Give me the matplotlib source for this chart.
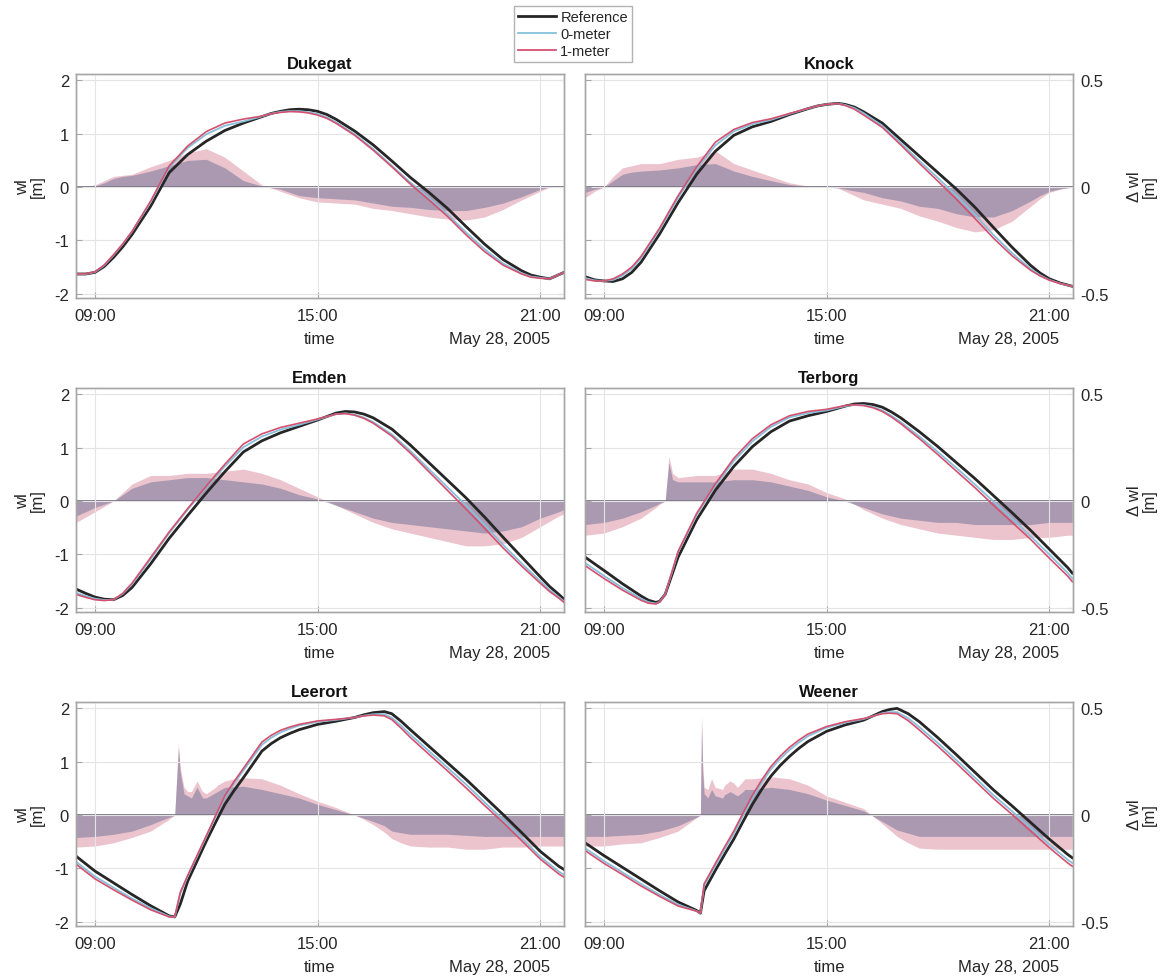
import numpy as np
import matplotlib
matplotlib.use("Agg")
import matplotlib.pyplot as plt
import matplotlib.dates as mdates
from matplotlib.lines import Line2D

plt.rcParams['font.family'] = ['Liberation Sans', 'DejaVu Sans']
plt.rcParams['axes.unicode_minus'] = False

# ---------------- data (hours of May 28, 2005) ----------------
stations = ['Dukegat', 'Knock', 'Emden', 'Terborg', 'Leerort', 'Weener']
series_labels = ['Reference', '0-meter', '1-meter']
date_label = 'May 28, 2005'

# Dukegat
t_dukegat = [8.49, 8.75, 9, 9.25, 9.5, 9.75, 10, 10.5, 11, 11.5, 12, 12.5, 13, 13.5, 13.75, 14, 14.25, 14.5,
             14.75, 15, 15.25, 15.5, 16, 16.5, 17, 17.5, 18, 18.5, 19, 19.5, 20, 20.5, 20.75, 21, 21.25, 21.64]
wl_dukegat = [-1.63, -1.63, -1.6, -1.49, -1.32, -1.12, -0.89, -0.36, 0.27, 0.61, 0.86, 1.06, 1.2, 1.32, 1.38,
              1.42, 1.45, 1.46, 1.45, 1.42, 1.36, 1.27, 1.05, 0.79, 0.49, 0.18, -0.1, -0.4, -0.74, -1.07, -1.36,
              -1.57, -1.65, -1.69, -1.72, -1.6]
d1_dukegat = [0, 0.005, 0.01, 0.03, 0.05, 0.055, 0.06, 0.095, 0.125, 0.16, 0.18, 0.14, 0.075, 0.01, -0.005,
              -0.02, -0.035, -0.05, -0.06, -0.07, -0.072, -0.075, -0.08, -0.1, -0.11, -0.125, -0.14, -0.15,
              -0.155, -0.14, -0.105, -0.06, -0.04, -0.02, 0.0, 0.0]
d0_dukegat = [0, 0.0, 0.005, 0.02, 0.04, 0.05, 0.055, 0.075, 0.1, 0.125, 0.13, 0.09, 0.03, 0.005, -0.003,
              -0.01, -0.025, -0.04, -0.045, -0.05, -0.052, -0.055, -0.06, -0.075, -0.09, -0.095, -0.105, -0.11,
              -0.11, -0.095, -0.075, -0.045, -0.028, -0.01, 0.0, 0.0]

# Knock
t_knock = [8.49, 8.75, 9, 9.25, 9.5, 9.75, 10, 10.5, 11, 11.5, 12, 12.5, 13, 13.5, 14, 14.5, 14.75, 15, 15.3,
           15.5, 15.75, 16, 16.5, 17, 17.5, 18, 18.5, 19, 19.5, 20, 20.5, 20.75, 21, 21.3, 21.62]
wl_knock = [-1.68, -1.74, -1.76, -1.77, -1.72, -1.6, -1.41, -0.88, -0.29, 0.24, 0.67, 0.97, 1.13, 1.23, 1.36,
            1.47, 1.52, 1.55, 1.57, 1.55, 1.5, 1.41, 1.2, 0.89, 0.58, 0.27, -0.04, -0.38, -0.76, -1.13, -1.47,
            -1.61, -1.72, -1.8, -1.86]
d1_knock = [-0.05, -0.02, 0.0, 0.05, 0.09, 0.1, 0.11, 0.11, 0.13, 0.14, 0.17, 0.11, 0.08, 0.05, 0.02, 0.005,
            0.002, 0.0, -0.005, -0.02, -0.04, -0.06, -0.08, -0.1, -0.135, -0.16, -0.19, -0.21, -0.2, -0.16, -0.09,
            -0.055, -0.025, -0.01, 0.0]
d0_knock = [-0.025, -0.01, 0.0, 0.03, 0.06, 0.07, 0.075, 0.08, 0.09, 0.105, 0.11, 0.075, 0.05, 0.03, 0.012,
            0.003, 0.001, 0.0, -0.003, -0.01, -0.018, -0.025, -0.05, -0.065, -0.09, -0.1, -0.125, -0.14, -0.14,
            -0.11, -0.065, -0.04, -0.02, -0.008, 0.0]

# Emden
t_emden = [8.49, 8.75, 9, 9.25, 9.5, 9.75, 10, 10.5, 11, 11.5, 12, 12.5, 13, 13.5, 14, 14.5, 15, 15.5, 15.75,
           16, 16.25, 16.5, 17, 17.5, 18, 18.5, 19, 19.5, 20, 20.5, 21, 21.25, 21.5, 21.64]
wl_emden = [-1.65, -1.73, -1.8, -1.84, -1.85, -1.77, -1.62, -1.18, -0.7, -0.27, 0.15, 0.55, 0.92, 1.13, 1.28,
            1.4, 1.52, 1.65, 1.68, 1.67, 1.63, 1.56, 1.35, 1.05, 0.72, 0.39, 0.06, -0.3, -0.68, -1.05, -1.42,
            -1.6, -1.75, -1.84]
d1_emden = [-0.1, -0.075, -0.05, -0.025, 0.0, 0.04, 0.08, 0.12, 0.12, 0.13, 0.13, 0.14, 0.15, 0.13, 0.1, 0.06,
            0.02, -0.02, -0.04, -0.06, -0.08, -0.1, -0.13, -0.15, -0.17, -0.19, -0.21, -0.21, -0.2, -0.17, -0.12,
            -0.095, -0.07, -0.06]
d0_emden = [-0.07, -0.05, -0.03, -0.015, 0.0, 0.03, 0.06, 0.09, 0.1, 0.11, 0.11, 0.1, 0.09, 0.08, 0.06, 0.03,
            0.01, -0.02, -0.035, -0.05, -0.065, -0.08, -0.1, -0.11, -0.12, -0.13, -0.14, -0.15, -0.14, -0.12,
            -0.08, -0.065, -0.05, -0.04]

# Terborg
t_terborg = [8.49, 9, 9.5, 10, 10.2, 10.4, 10.5, 10.65, 11, 11.5, 12, 12.5, 13, 13.5, 14, 14.5, 15, 15.5, 15.75,
             16, 16.25, 16.5, 16.75, 17, 17.5, 18, 18.5, 19, 19.5, 20, 20.5, 21, 21.5, 21.62]
wl_terborg = [-1.05, -1.3, -1.55, -1.78, -1.86, -1.9, -1.88, -1.75, -1.05, -0.35, 0.2, 0.65, 1.02, 1.3, 1.5, 1.6,
              1.68, 1.78, 1.82, 1.83, 1.81, 1.76, 1.67, 1.56, 1.3, 1.02, 0.72, 0.42, 0.1, -0.22, -0.55, -0.9,
              -1.25, -1.35]
d1_terborg = [-0.16, -0.15, -0.12, -0.08, -0.055, -0.03, -0.015, 0.0, 0.11, 0.12, 0.12, 0.15, 0.15, 0.13, 0.1,
              0.08, 0.04, 0.01, -0.015, -0.04, -0.06, -0.08, -0.095, -0.11, -0.13, -0.15, -0.16, -0.17, -0.18,
              -0.18, -0.17, -0.17, -0.16, -0.16]
d0_terborg = [-0.11, -0.1, -0.08, -0.05, -0.035, -0.02, -0.01, 0.0, 0.09, 0.09, 0.09, 0.1, 0.1, 0.09, 0.07,
              0.05, 0.02, 0.0, -0.015, -0.03, -0.045, -0.06, -0.07, -0.08, -0.09, -0.1, -0.1, -0.11, -0.11, -0.11,
              -0.11, -0.1, -0.1, -0.1]
ts_terborg = [10.75, 10.85]
s1_terborg = [0.21, 0.13]
s0_terborg = [0.18, 0.10]

# Leerort
t_leerort = [8.49, 9, 9.5, 10, 10.5, 11, 11.15, 11.3, 11.5, 12, 12.25, 12.5, 12.75, 13, 13.5, 13.75, 14, 14.25,
             14.5, 15, 15.5, 16, 16.25, 16.5, 16.8, 17, 17.25, 17.5, 18, 18.5, 19, 19.5, 20, 20.5, 21, 21.5, 21.64]
wl_leerort = [-0.77, -1.05, -1.27, -1.49, -1.7, -1.89, -1.91, -1.67, -1.24, -0.49, -0.14, 0.2, 0.46, 0.7, 1.2,
              1.34, 1.45, 1.53, 1.6, 1.7, 1.76, 1.83, 1.88, 1.92, 1.94, 1.9, 1.76, 1.6, 1.29, 0.98, 0.67, 0.34,
              0.01, -0.33, -0.68, -0.96, -1.02]
d1_leerort = [-0.15, -0.145, -0.13, -0.105, -0.075, -0.02, 0.0, 0.22, 0.11, 0.1, 0.13, 0.16, 0.17, 0.175, 0.17,
              0.155, 0.14, 0.12, 0.1, 0.065, 0.035, 0.0, -0.02, -0.045, -0.08, -0.11, -0.13, -0.145, -0.15, -0.15,
              -0.16, -0.16, -0.15, -0.15, -0.145, -0.145, -0.145]
d0_leerort = [-0.105, -0.1, -0.09, -0.075, -0.045, -0.01, 0.0, 0.2, 0.09, 0.08, 0.105, 0.13, 0.133, 0.135, 0.12,
              0.11, 0.1, 0.09, 0.08, 0.05, 0.025, 0.0, -0.015, -0.03, -0.05, -0.075, -0.083, -0.09, -0.09, -0.09,
              -0.095, -0.1, -0.1, -0.1, -0.1, -0.1, -0.1]
ts_leerort = [11.25, 11.4, 11.6, 11.75, 11.9, 12.3]
s1_leerort = [0.34, 0.13, 0.11, 0.16, 0.11, 0.14]
s0_leerort = [0.31, 0.10, 0.08, 0.13, 0.08, 0.11]

# Weener
t_weener = [8.49, 9, 9.5, 10, 10.5, 11, 11.5, 11.6, 11.7, 12, 12.25, 12.5, 12.75, 13, 13.25, 13.5, 13.75, 14,
            14.25, 14.5, 15, 15.5, 16, 16.5, 16.7, 16.9, 17.2, 17.5, 18, 18.5, 19, 19.5, 20, 20.5, 21, 21.5, 21.62]
wl_weener = [-0.52, -0.76, -0.98, -1.2, -1.42, -1.63, -1.79, -1.84, -1.42, -1.04, -0.74, -0.45, -0.12, 0.2, 0.48,
             0.73, 0.93, 1.1, 1.25, 1.38, 1.57, 1.69, 1.78, 1.94, 1.98, 2.0, 1.9, 1.75, 1.45, 1.13, 0.8, 0.47,
             0.17, -0.14, -0.45, -0.74, -0.8]
d1_weener = [-0.145, -0.145, -0.135, -0.13, -0.105, -0.075, -0.012, 0.0, 0.13, 0.13, 0.14, 0.15, 0.16, 0.17,
             0.175, 0.18, 0.175, 0.17, 0.155, 0.14, 0.09, 0.06, 0.03, -0.04, -0.07, -0.1, -0.13, -0.155, -0.16,
             -0.16, -0.16, -0.16, -0.16, -0.16, -0.16, -0.16, -0.16]
d0_weener = [-0.1, -0.1, -0.095, -0.09, -0.075, -0.05, -0.01, 0.0, 0.1, 0.09, 0.095, 0.1, 0.11, 0.12, 0.125,
             0.13, 0.125, 0.12, 0.11, 0.1, 0.07, 0.045, 0.02, -0.03, -0.05, -0.07, -0.085, -0.1, -0.1, -0.1,
             -0.1, -0.1, -0.1, -0.1, -0.1, -0.1, -0.1]
ts_weener = [11.63, 11.66, 11.8, 11.9, 12.2, 12.4, 12.6, 12.8]
s1_weener = [0.47, 0.25, 0.12, 0.17, 0.12, 0.16, 0.13, 0.17]
s0_weener = [0.44, 0.20, 0.08, 0.12, 0.08, 0.11, 0.09, 0.12]

data = {
    'Dukegat': (t_dukegat, wl_dukegat, d0_dukegat, d1_dukegat, [], [], []),
    'Knock': (t_knock, wl_knock, d0_knock, d1_knock, [], [], []),
    'Emden': (t_emden, wl_emden, d0_emden, d1_emden, [], [], []),
    'Terborg': (t_terborg, wl_terborg, d0_terborg, d1_terborg, ts_terborg, s0_terborg, s1_terborg),
    'Leerort': (t_leerort, wl_leerort, d0_leerort, d1_leerort, ts_leerort, s0_leerort, s1_leerort),
    'Weener': (t_weener, wl_weener, d0_weener, d1_weener, ts_weener, s0_weener, s1_weener),
}

# ---------------- styling ----------------
C_REF = '#262626'
C_0M = '#86c0dc'
C_1M = '#d4506e'
C_FILL1 = '#d98a9c'
C_FILL0 = '#6a6f95'
C_SPINE = '#a6a6a6'
C_TEXT = '#262626'

BASE = np.datetime64('2005-05-28T00:00:00')


def to_dt(hours):
    secs = np.round(np.asarray(hours, dtype=float) * 3600).astype(np.int64)
    return BASE + secs.astype('timedelta64[s]')


W, H = 1164, 978
fig = plt.figure(figsize=(W / 100, H / 100), dpi=100)

col_left = [76, 585]
col_width = 488
row_top = [75, 389, 703]
row_height = 224

for i, name in enumerate(stations):
    r, c = divmod(i, 2)
    rect = [col_left[c] / W, 1 - (row_top[r] + row_height) / H, col_width / W, row_height / H]
    ax = fig.add_axes(rect)
    axd = ax.twinx()
    ax.set_zorder(axd.get_zorder() + 1)
    ax.patch.set_visible(False)

    t, wl, d0, d1, ts, s0, s1 = data[name]
    t = np.asarray(t, float)
    wl = np.asarray(wl, float)
    d0 = np.asarray(d0, float)
    d1 = np.asarray(d1, float)

    # fills: base samples plus the narrow peaks
    tf = np.concatenate([t, np.asarray(ts, float)])
    f0 = np.concatenate([d0, np.asarray(s0, float)])
    f1 = np.concatenate([d1, np.asarray(s1, float)])
    order = np.argsort(tf, kind='stable')
    tf, f0, f1 = tf[order], f0[order], f1[order]

    axd.fill_between(to_dt(tf), 0, f1, color=C_FILL1, alpha=0.5, lw=0)
    axd.fill_between(to_dt(tf), 0, f0, color=C_FILL0, alpha=0.5, lw=0)
    axd.axhline(0, color='#7a7486', lw=1.3)

    x = to_dt(t)
    ax.plot(x, wl, color=C_REF, lw=2.0)
    ax.plot(x, wl + d0, color=C_0M, lw=1.3)
    ax.plot(x, wl + d1, color=C_1M, lw=1.2)

    ax.set_xlim(to_dt([8.49, 21.64]))
    ax.set_ylim(-2.08, 2.12)
    axd.set_ylim(-2.08 / 4, 2.12 / 4)
    ax.set_yticks([-2, -1, 0, 1, 2])
    axd.set_yticks([-0.5, 0, 0.5])
    axd.set_yticklabels(['-0.5', '0', '0.5'])
    ax.set_xticks(to_dt([9, 15, 21]))
    ax.xaxis.set_major_formatter(mdates.DateFormatter('%H:%M'))

    ax.grid(True, color='#e4e4e4', lw=0.8)
    for a in (ax, axd):
        for s in a.spines.values():
            s.set_color(C_SPINE)
            s.set_linewidth(1.0)
        a.tick_params(direction='in', length=4, color=C_SPINE, labelsize=12, labelcolor=C_TEXT, pad=7)
    ax.tick_params(axis='y', pad=5)
    axd.tick_params(axis='y', pad=5)

    if c == 0:
        axd.tick_params(labelright=False)
        ax.set_ylabel('wl\n[m]', fontsize=12, color=C_TEXT, linespacing=1.0)
        ax.yaxis.label.set_va('center')
        ax.yaxis.set_label_coords(-46 / col_width, 0.5)
    else:
        ax.tick_params(labelleft=False)
        axd.set_ylabel('\u0394 wl\n[m]', fontsize=12, color=C_TEXT, linespacing=1.0)
        axd.yaxis.label.set_va('center')
        axd.yaxis.set_label_coords(1 + 69 / col_width, 0.5)

    ax.set_title(name, fontsize=12, fontweight='bold', color='#111111', pad=4)
    ax.set_xlabel('time', fontsize=12, color=C_TEXT)
    ax.xaxis.label.set_va('center')
    ax.xaxis.set_label_coords(0.5, -41 / row_height)
    ax.text(474 / col_width, -41 / row_height, date_label, transform=ax.transAxes,
            ha='right', va='center', fontsize=12, color=C_TEXT)

handles = [Line2D([], [], color=C_REF, lw=2.0),
           Line2D([], [], color=C_0M, lw=1.3),
           Line2D([], [], color=C_1M, lw=1.3)]
leg = fig.legend(handles, series_labels, loc='center', bbox_to_anchor=(573 / W, 1 - 35 / H),
                 fontsize=10.5, frameon=True, fancybox=False, edgecolor='#a0a0a0',
                 handlelength=2.6, labelspacing=0.2, borderpad=0.3, handletextpad=0.3)
leg.get_frame().set_linewidth(1.0)
for txt in leg.get_texts():
    txt.set_color(C_TEXT)

fig.savefig('out.png', dpi=100)
